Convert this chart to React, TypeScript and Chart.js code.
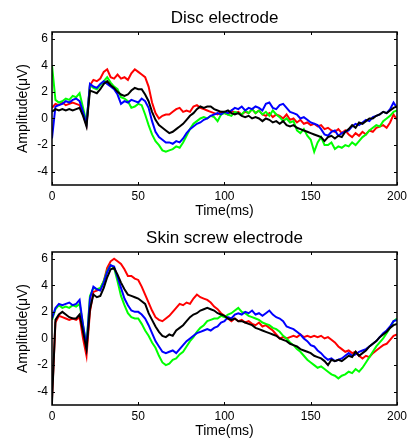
import React, { useEffect, useRef } from "react";
import { Chart, registerables } from "chart.js";

Chart.register(...registerables);

const times = [
  0, 2, 4, 6, 8, 10, 12, 14, 16, 18, 20, 22, 24, 26, 28, 30, 32, 34, 36, 38, 40,
  42, 44, 46, 48, 50, 52, 54, 56, 58, 60, 62, 64, 66, 68, 70, 72, 74, 76, 78, 80,
  82, 84, 86, 88, 90, 92, 94, 96, 98, 100, 102, 104, 106, 108, 110, 112, 114, 116, 118, 120,
  122, 124, 126, 128, 130, 132, 134, 136, 138, 140, 142, 144, 146, 148, 150, 152, 154, 156, 158, 160,
  162, 164, 166, 168, 170, 172, 174, 176, 178, 180, 182, 184, 186, 188, 190, 192, 194, 196, 198, 200,
];

const xTicks = [0, 50, 100, 150, 200];
const yTicks = [-4, -2, 0, 2, 4, 6];

// Disc electrode
const discRed = [
  0.8, 1.1, 1.0, 1.2, 1.0, 1.1, 1.2, 1.1, 1.0, 0.3, -0.5,
  2.5, 2.9, 2.8, 3.0, 3.5, 3.7, 3.1, 3.0, 3.3, 3.0, 3.1, 2.9, 3.4, 3.7, 3.5, 3.3, 3.1, 2.4,
  1.2, 0.4, 0.0, 0.2, 0.3, 0.3, 0.5, 0.7, 0.8, 0.5, 0.6, 0.5, 0.9, 1.0, 0.8, 0.7, 0.6, 0.5, 0.4, 0.3, 0.5, 0.4,
  0.3, 0.6, 0.4, 0.5, 0.3, 0.5, 0.4, 0.7, 0.4, 0.6, 0.3, 0.2, 0.4, 0.1, 0.3, 0.2, 0.0, 0.3, -0.1, 0.0,
  -0.3, -0.1, -0.4, -0.3, -0.5, -0.4, -0.6, -0.5, -0.8, -0.7, -0.9, -1.0, -0.8, -1.1, -0.9, -1.2, -1.4, -1.1, -1.3, -1.0,
  -1.2, -0.9, -1.0, -0.7, -0.6, -0.5, -0.7, -0.3, 0.3, -0.1,
];
const discBlack = [
  0.5, 0.7, 0.6, 0.7, 0.6, 0.7, 0.6, 0.7, 0.8, 0.2, -0.6,
  2.1, 2.0, 1.9, 2.2, 2.6, 2.8, 2.5, 2.3, 2.0, 1.8, 1.7, 1.8, 2.1, 2.3, 2.2, 2.2, 1.8, 1.3,
  0.5, -0.1, -0.5, -0.7, -0.9, -1.1, -1.0, -0.8, -0.6, -0.4, -0.1, 0.2, 0.4, 0.7, 0.9, 0.8, 0.9, 0.9, 0.7, 0.6, 0.5, 0.5,
  0.6, 0.4, 0.3, 0.4, 0.2, 0.1, 0.2, 0.0, 0.1, 0.0, -0.2, 0.0, -0.1, -0.3, -0.2, -0.4, -0.2, -0.5, -0.6, -0.5,
  -0.7, -0.8, -0.9, -1.0, -1.1, -1.2, -1.3, -1.4, -1.7, -1.4, -1.3, -1.5, -1.3, -1.4, -1.0, -0.8, -0.5, -0.7, -0.3, -0.4,
  -0.2, 0.0, 0.0, 0.2, 0.3, 0.5, 0.4, 0.6, 0.8, 0.9,
];
const discBlue = [
  -1.5, 0.9, 1.0, 1.1, 1.3, 1.2, 1.4, 1.5, 1.3, 0.5, -0.4,
  2.6, 2.4, 2.3, 2.6, 2.8, 2.6, 2.4, 2.2, 1.8, 1.1, 1.3, 1.2, 1.4, 1.3, 1.2, 1.5, 1.3, 0.8,
  -0.2, -1.0, -1.4, -1.6, -1.8, -1.8, -1.9, -1.7, -1.8, -1.5, -1.1, -0.8, -0.6, -0.4, -0.3, -0.1, 0.0, 0.2, 0.3, 0.4, 0.3, 0.5,
  0.4, 0.6, 0.8, 0.7, 0.9, 0.6, 0.8, 0.7, 0.9, 0.8, 0.6, 1.1, 1.2, 0.8, 0.7, 1.0, 1.1, 0.8, 0.5, 0.4,
  0.3, 0.0, 0.1, -0.1, -0.3, -0.4, -0.5, -0.8, -1.2, -1.3, -1.0, -0.9, -1.3, -1.1, -1.0, -0.9, -0.6, -0.4, -0.5, -0.3,
  -0.1, -0.2, 0.1, 0.2, 0.3, 0.5, 0.4, 0.7, 1.2, 0.8,
];
const discGreen = [
  4.0, 1.4, 1.2, 1.3, 1.5, 1.4, 1.7, 1.6, 1.9, 0.8, -0.3,
  2.5, 2.3, 2.2, 2.5, 2.8, 3.1, 2.7, 2.4, 2.2, 1.6, 1.5, 1.3, 0.8, 0.9, 1.1, 1.0, 0.3, -0.5,
  -1.2, -1.7, -2.0, -2.4, -2.5, -2.4, -2.3, -2.1, -2.2, -1.8, -1.3, -0.8, -0.4, -0.2, 0.0, 0.1, 0.0, 0.2, 0.1, -0.2, 0.3, 0.4,
  0.3, 0.2, 0.5, 0.4, 0.3, 0.6, 0.4, 0.7, 0.4, 0.6, 0.3, 0.5, 0.2, 0.6, 0.3, 0.1, -0.2, 0.0, -0.3, -0.2,
  -0.9, -1.1, -0.8, -1.3, -1.6, -2.5, -1.8, -1.4, -2.0, -2.0, -1.8, -2.3, -2.1, -2.2, -2.0, -2.1, -1.8, -2.0, -1.7, -1.4,
  -1.2, -0.9, -0.7, -0.5, -0.6, -0.2, 0.0, 0.2, 0.5, 0.6,
];

// Skin screw electrode
const skinRed = [
  -4.5, 1.2, 1.7, 1.6, 1.5, 1.4, 1.5, 1.4, 1.6, 0.0, -1.3,
  2.0, 3.5, 3.6, 3.7, 4.3, 5.3, 5.8, 6.0, 5.8, 5.6, 5.2, 4.7, 4.7, 4.5, 4.4, 3.9, 3.3, 2.7,
  2.1, 1.6, 1.4, 1.3, 1.5, 1.7, 2.0, 2.3, 2.6, 2.5, 2.7, 2.6, 3.0, 3.3, 3.1, 3.0, 2.9, 2.7, 2.4, 2.2, 1.9, 1.7,
  1.5, 1.3, 1.5, 1.3, 1.4, 1.2, 1.3, 1.1, 1.0, 1.2, 0.9, 1.0, 0.8, 0.6, 0.3, 0.0, 0.1, 0.0, 0.1, 0.2,
  0.1, 0.3, 0.1, 0.2, 0.1, 0.2, 0.1, 0.2, 0.0, 0.1, -0.1, -0.3, -0.6, -0.8, -1.0, -0.9, -1.1, -1.0, -1.3, -1.5,
  -1.3, -1.4, -1.1, -0.9, -0.7, -0.5, -0.4, -0.1, 0.2, 0.3,
];
const skinBlack = [
  -4.8, 1.4, 1.8, 2.0, 1.8, 1.6, 1.5, 1.5, 1.8, 0.5, -0.8,
  2.2, 3.3, 3.1, 3.2, 3.8, 4.6, 5.2, 5.3, 4.8, 4.2, 3.7, 3.3, 3.2, 3.1, 3.0, 2.8, 2.6, 1.9,
  1.4, 0.9, 0.5, 0.2, 0.1, 0.3, 0.2, 0.6, 0.8, 1.0, 1.3, 1.6, 1.8, 1.9, 2.1, 2.2, 2.3, 2.2, 2.1, 1.9, 1.8, 1.7,
  1.5, 1.4, 1.5, 1.3, 1.3, 1.2, 1.1, 1.0, 0.8, 0.7, 0.6, 0.5, 0.4, 0.3, 0.2, 0.0, -0.1, -0.2, -0.4, -0.5,
  -0.6, -0.8, -0.9, -1.0, -1.1, -1.3, -1.4, -1.5, -1.7, -2.0, -1.6, -1.7, -1.6, -1.7, -1.5, -1.3, -1.4, -1.0, -1.3, -1.1,
  -0.9, -0.6, -0.4, -0.2, 0.1, 0.3, 0.5, 0.8, 1.0, 1.1,
];
const skinBlue = [
  1.5, 2.3, 2.6, 2.5, 2.6, 2.7, 2.5, 2.6, 2.9, 1.0, -0.6,
  3.0, 3.9, 3.7, 3.6, 4.2, 5.0, 5.5, 5.4, 4.6, 3.8, 3.0, 2.5, 2.1, 2.0, 2.0, 1.8, 1.5, 1.0,
  0.4, -0.2, -0.6, -1.0, -1.1, -1.0, -0.9, -1.1, -0.8, -0.5, -0.2, 0.0, 0.2, 0.4, 0.5, 0.6, 0.7, 0.6, 0.8, 0.9, 1.2, 1.3,
  1.6, 1.5, 1.8, 1.9, 1.8, 2.0, 1.9, 2.1, 1.8, 1.9, 1.7, 1.9, 2.1, 1.8, 1.6, 1.5, 1.3, 0.9, 0.8, 0.7,
  0.5, 0.3, 0.0, -0.2, -0.5, -0.6, -0.9, -1.1, -1.4, -1.6, -1.5, -1.7, -1.6, -1.5, -1.3, -1.1, -1.3, -1.2, -1.0, -0.9,
  -0.8, -0.6, -0.4, -0.2, 0.1, 0.4, 0.6, 0.9, 1.3, 1.4,
];
const skinGreen = [
  1.4, 2.2, 2.5, 2.3, 2.4, 2.3, 2.5, 2.4, 2.6, 1.0, -0.5,
  3.2, 3.8, 3.7, 3.8, 4.3, 5.1, 5.5, 5.3, 4.3, 3.2, 2.5, 1.9, 1.6, 1.5, 1.5, 1.1, 0.6, 0.2,
  -0.3, -0.7, -1.3, -1.8, -2.0, -1.9, -1.6, -1.5, -1.2, -1.0, -0.6, -0.2, 0.1, 0.5, 0.8, 1.0, 1.3, 1.4, 1.5, 1.5, 1.7, 1.6,
  1.8, 1.9, 2.1, 2.3, 2.0, 1.9, 1.7, 1.6, 1.5, 1.4, 1.2, 1.1, 1.0, 0.8, 0.7, 0.5, 0.2, 0.0, -0.3, -0.5,
  -0.8, -1.0, -1.3, -1.6, -1.8, -2.0, -2.2, -2.1, -2.3, -2.5, -2.7, -2.8, -3.0, -2.8, -2.7, -2.5, -2.6, -2.3, -2.5, -2.2,
  -1.8, -1.4, -1.0, -0.6, -0.3, 0.0, 0.4, 0.8, 1.3, 1.5,
];

const FONT = "'Liberation Sans', Arial, sans-serif";

const framePlugin = {
  id: "frame",
  afterDatasetsDraw(chart: any, _args: any, opts: any) {
    const { ctx, chartArea, scales } = chart;
    const { left, right, top, bottom } = chartArea;
    const x = scales.x;
    const y = scales.y;
    ctx.save();
    ctx.strokeStyle = "#000";
    ctx.lineWidth = 1;
    ctx.beginPath();
    for (const t of xTicks) {
      const px = Math.round(x.getPixelForValue(t)) + 0.5;
      ctx.moveTo(px, bottom);
      ctx.lineTo(px, bottom - 3);
      ctx.moveTo(px, top);
      ctx.lineTo(px, top + 3);
    }
    for (const v of yTicks) {
      const py = Math.round(y.getPixelForValue(v)) + 0.5;
      ctx.moveTo(left, py);
      ctx.lineTo(left + 3, py);
      ctx.moveTo(right, py);
      ctx.lineTo(right - 3, py);
    }
    ctx.stroke();
    ctx.lineWidth = 1.5;
    ctx.strokeRect(left, top, right - left, bottom - top);
    if (opts && opts.title) {
      ctx.fillStyle = "#000";
      ctx.font = `17px ${FONT}`;
      ctx.textAlign = "center";
      ctx.textBaseline = "alphabetic";
      ctx.fillText(opts.title, (left + right) / 2, 22.5);
    }
    ctx.restore();
  },
};

function toPoints(vals: number[]) {
  return times.map((t, i) => ({ x: t, y: vals[i] }));
}

type PanelProps = {
  title: string;
  red: number[];
  black: number[];
  blue: number[];
  green: number[];
};

function Panel({ title, red, black, blue, green }: PanelProps) {
  const ref = useRef<HTMLCanvasElement | null>(null);
  useEffect(() => {
    if (!ref.current) return;
    const mk = (label: string, vals: number[], color: string) => ({
      label,
      data: toPoints(vals),
      borderColor: color,
      backgroundColor: color,
      borderWidth: 2,
      pointRadius: 0,
      tension: 0,
      fill: false,
    });
    const chart = new Chart(ref.current, {
      type: "line",
      data: {
        datasets: [
          mk("black", black, "#000000"),
          mk("blue", blue, "#0000ff"),
          mk("green", green, "#00ff00"),
          mk("red", red, "#ff0000"),
        ],
      },
      options: {
        animation: false,
        responsive: true,
        maintainAspectRatio: false,
        layout: { padding: { left: 0, right: 11, top: 32, bottom: 0 } },
        plugins: {
          legend: { display: false },
          tooltip: { enabled: false },
          title: { display: false },
          frame: { title },
        },
        scales: {
          x: {
            type: "linear",
            min: 0,
            max: 200,
            grid: { display: false, drawTicks: false },
            border: { display: false },
            afterBuildTicks: (s: any) => {
              s.ticks = xTicks.map((v) => ({ value: v }));
            },
            afterFit: (s: any) => {
              s.height = 35;
            },
            ticks: {
              color: "#000",
              padding: 4,
              maxRotation: 0,
              font: { family: FONT, size: 12 },
            },
            title: {
              display: true,
              text: "Time(ms)",
              color: "#000",
              font: { family: FONT, size: 14 },
              padding: { top: 0, bottom: 0 },
            },
          },
          y: {
            type: "linear",
            min: -5,
            max: 6.5,
            grid: { display: false, drawTicks: false },
            border: { display: false },
            afterBuildTicks: (s: any) => {
              s.ticks = yTicks.map((v) => ({ value: v }));
            },
            afterFit: (s: any) => {
              s.width = 52;
            },
            ticks: {
              color: "#000",
              padding: 4,
              font: { family: FONT, size: 12 },
            },
            title: {
              display: true,
              text: "Amplitude(μV)",
              color: "#000",
              font: { family: FONT, size: 14 },
              padding: { top: 15, bottom: 0 },
            },
          },
        },
      },
      plugins: [framePlugin],
    } as any);
    return () => chart.destroy();
  }, [title, red, black, blue, green]);
  return (
    <div style={{ position: "relative", width: 411, height: 220 }}>
      <canvas ref={ref} />
    </div>
  );
}

export default function App() {
  return (
    <div style={{ position: "absolute", left: 0, top: 0, width: 411, height: 440, background: "#fff" }}>
      <Panel title="Disc electrode" red={discRed} black={discBlack} blue={discBlue} green={discGreen} />
      <Panel title="Skin screw electrode" red={skinRed} black={skinBlack} blue={skinBlue} green={skinGreen} />
    </div>
  );
}
